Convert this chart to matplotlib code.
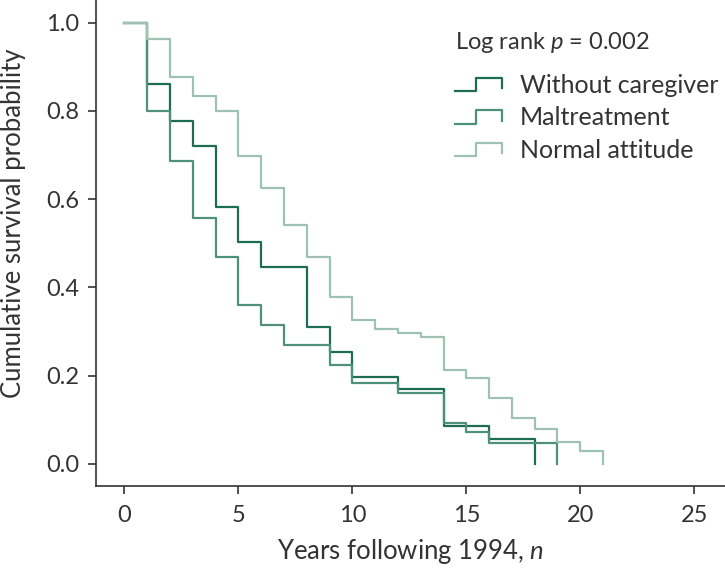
import matplotlib
matplotlib.use("Agg")
import matplotlib.pyplot as plt
import numpy as np
from matplotlib.legend_handler import HandlerBase
from matplotlib.lines import Line2D

# Kaplan-Meier estimates (value holds from year t to t+1)
years_without = [0, 1, 2, 3, 4, 5, 6, 7, 8, 9, 10, 11, 12, 13, 14, 15, 16, 17, 18]
surv_without = [1.0, 0.861, 0.777, 0.721, 0.583, 0.502, 0.445, 0.445, 0.309, 0.253,
                0.196, 0.196, 0.170, 0.170, 0.086, 0.086, 0.057, 0.057, 0.0]

years_malt = [0, 1, 2, 3, 4, 5, 6, 7, 8, 9, 10, 11, 12, 13, 14, 15, 16, 17, 18, 19]
surv_malt = [1.0, 0.800, 0.686, 0.556, 0.468, 0.359, 0.315, 0.270, 0.270, 0.224,
             0.182, 0.182, 0.160, 0.160, 0.093, 0.071, 0.047, 0.047, 0.047, 0.0]

years_normal = [0, 1, 2, 3, 4, 5, 6, 7, 8, 9, 10, 11, 12, 13, 14, 15, 16, 17, 18, 19, 20, 21]
surv_normal = [1.0, 0.962, 0.877, 0.834, 0.800, 0.698, 0.624, 0.541, 0.468, 0.379,
               0.325, 0.305, 0.296, 0.287, 0.213, 0.194, 0.149, 0.104, 0.078, 0.049,
               0.030, 0.0]

group_labels = ["Without caregiver", "Maltreatment", "Normal attitude"]
group_colors = ["#1d6d55", "#4e9079", "#9fc1b3"]

x_ticks = [0, 5, 10, 15, 20, 25]
y_ticks = [0.0, 0.2, 0.4, 0.6, 0.8, 1.0]

plt.rcParams["font.family"] = ["Lato", "DejaVu Sans"]
plt.rcParams["mathtext.fontset"] = "custom"
plt.rcParams["mathtext.it"] = "Lato:italic"
plt.rcParams["mathtext.rm"] = "Lato"

text_col = "#333333"


class StepHandler(HandlerBase):
    """Draws the little step icon used in the legend."""
    def create_artists(self, legend, orig_handle, xdescent, ydescent,
                       width, height, fontsize, trans):
        xs = np.array([0, 0.45, 0.45, 1.0, 1.0]) * width - xdescent
        ys = np.array([0.0, 0.0, 0.95, 0.95, 0.2]) * height - ydescent
        line = Line2D(xs, ys, color=orig_handle.get_color(),
                      lw=orig_handle.get_linewidth())
        line.set_transform(trans)
        return [line]


fig = plt.figure(figsize=(7.25, 5.75), dpi=100)
ax = fig.add_axes([0.132, 0.155, 0.868, 0.845])

lines = []
for xs, ys, lab, col in zip([years_without, years_malt, years_normal],
                            [surv_without, surv_malt, surv_normal],
                            group_labels, group_colors):
    ln, = ax.step(xs, ys, where="post", color=col, lw=1.6, label=lab)
    lines.append(ln)

ax.set_xlim(-1.26, 26.35)
ax.set_ylim(-0.05, 1.051)
ax.set_xticks(x_ticks)
ax.set_yticks(y_ticks)
ax.set_yticklabels([f"{v:.1f}" for v in y_ticks])

for side in ["top", "right"]:
    ax.spines[side].set_visible(False)
for side in ["left", "bottom"]:
    ax.spines[side].set_color(text_col)
    ax.spines[side].set_linewidth(1.2)
ax.tick_params(direction="out", length=6, width=1.2, color=text_col,
               labelsize=17, labelcolor=text_col, pad=6)
ax.tick_params(axis="x", pad=8)

ax.set_xlabel("Years following 1994, $n$", fontsize=18.5, color=text_col, labelpad=8)
ax.set_ylabel("Cumulative survival probability", fontsize=18.5, color=text_col)
ax.yaxis.set_label_coords(-0.11, 0.54)

ax.text(0.571, 0.912, "Log rank $p$ = 0.002", transform=ax.transAxes,
        fontsize=17, color=text_col, va="center", ha="left")

ax.legend(handles=lines, loc="upper left", bbox_to_anchor=(0.571, 0.848),
          frameon=False, fontsize=18, handlelength=1.88, handleheight=0.5,
          handletextpad=0.72, labelspacing=0.38, borderpad=0, borderaxespad=0,
          labelcolor=text_col,
          handler_map={Line2D: StepHandler()})

fig.savefig("out.png", dpi=100)
